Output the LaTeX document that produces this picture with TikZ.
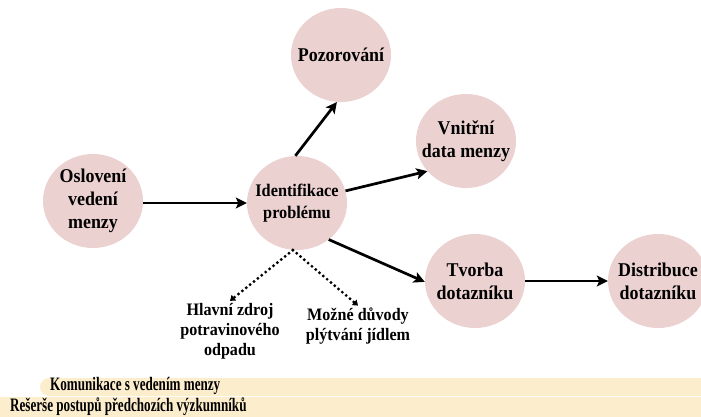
\documentclass[tikz,border=0pt]{standalone}
\usepackage{fontspec}
\setmainfont{Liberation Serif}
\newfontfamily\barfont[FakeStretch=0.69]{Liberation Serif}
\newfontfamily\nodefont[FakeStretch=0.92]{Liberation Serif}
\usetikzlibrary{arrows.meta,shapes.geometric}
\definecolor{pinkfill}{RGB}{236,209,209}
\definecolor{barfill}{RGB}{252,237,204}
\begin{document}
\begin{tikzpicture}[x=1pt,y=-1pt,
  bub/.style={ellipse, fill=pinkfill, minimum width=100pt, minimum height=94pt, inner sep=-14pt, align=center, font=\nodefont\fontsize{19.5}{23}\selectfont\bfseries},
  lab/.style={align=center, font=\nodefont\fontsize{17.5}{20}\selectfont\bfseries, inner sep=2pt},
  arr/.style={line width=2.7pt, -{Stealth[length=11pt,width=11pt,inset=2.5pt]}},
  dots/.style={line width=3.2pt, line cap=round, dash pattern=on 0pt off 5pt, -{Triangle[length=5pt,width=7pt]}},
  bartext/.style={anchor=west, inner sep=0pt, font=\barfont\fontsize{19}{20}\selectfont\bfseries}]
\useasboundingbox (0,0) rectangle (701,417);
\begin{scope}
\clip (0,0) rectangle (701,417);
\fill[barfill, rounded corners=9pt] (40,378) rectangle (740,396);
\fill[barfill] (0,397) rectangle (701,417);
\node[bub] (dist) at (658,281) {Distribuce\\dotazníku};
\end{scope}
\node[bartext] (kom) at (50,386) {Komunikace s vedením menzy};
\node[bartext] (res) at (10,407) {Rešerše postupů předchozích výzkumníků};

\node[bub] (osl) at (93,201) {Oslovení\\vedení\\menzy};
\node[bub, font=\nodefont\fontsize{17.7}{22}\selectfont\bfseries] (ident) at (297,203) {Identifikace\\problému};
\node[bub] (poz) at (341,55) {Pozorování};
\node[bub] (vn) at (466,141) {Vnitřní\\data menzy};
\node[bub] (tv) at (475,281) {Tvorba\\dotazníku};

\node[lab] (hl) at (230,331) {Hlavní zdroj\\potravinového\\odpadu};
\node[lab] (mz) at (358,326) {Možné důvody\\plýtvání jídlem};

\draw[arr] (osl.east |- ident.west) -- (ident.west);
\draw[arr] (ident.92) -- (poz.265);
\draw[arr] (ident.14) -- (vn.218);
\draw[arr] (ident.311) -- (tv.181);
\draw[arr] (tv) -- (dist);
\draw[dots] (ident.265) -- (hl.north);
\draw[dots] (ident.265) -- (mz.north);
\end{tikzpicture}
\end{document}
